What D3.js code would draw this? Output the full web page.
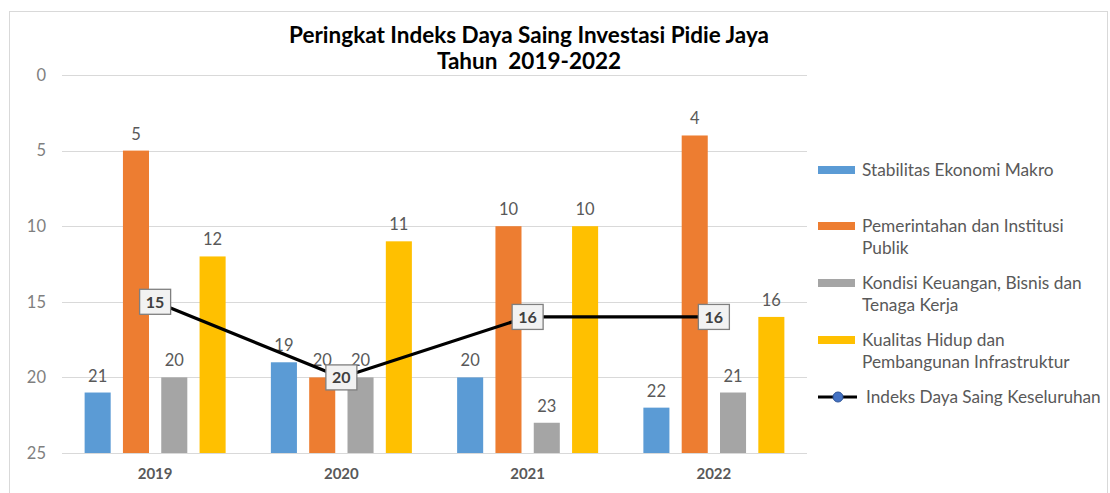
<!DOCTYPE html>
<html>
<head>
<meta charset="utf-8">
<script src="https://cdn.jsdelivr.net/npm/d3@7"></script>
<style>
  html, body { margin: 0; padding: 0; background: #fff; }
  svg { display: block; font-family: Lato, "Open Sans", sans-serif; }
</style>
</head>
<body>
<svg id="chart" width="1110" height="493"></svg>
<script>
const years = ["2019", "2020", "2021", "2022"];
const seriesNames = [
  "Stabilitas Ekonomi Makro",
  "Pemerintahan dan Institusi Publik",
  "Kondisi Keuangan, Bisnis dan Tenaga Kerja",
  "Kualitas Hidup dan Pembangunan Infrastruktur"
];
const stabilitas = [21, 19, 20, 22];
const pemerintahan = [5, 20, 10, 4];
const kondisi = [20, 20, 23, 21];
const kualitas = [12, 11, 10, 16];
const indeksKeseluruhan = [15, 20, 16, 16];
const lineName = "Indeks Daya Saing Keseluruhan";
const yTicks = [0, 5, 10, 15, 20, 25];
const colors = ["#5B9BD5", "#ED7D31", "#A5A5A5", "#FFC000"];
const legendLines = [
  ["Stabilitas Ekonomi Makro"],
  ["Pemerintahan dan Institusi", "Publik"],
  ["Kondisi Keuangan, Bisnis dan", "Tenaga Kerja"],
  ["Kualitas Hidup dan", "Pembangunan Infrastruktur"]
];
const titleLines = ["Peringkat Indeks Daya Saing Investasi Pidie Jaya", "Tahun  2019-2022"];

const barSeries = [stabilitas, pemerintahan, kondisi, kualitas];

const svg = d3.select("#chart");

// outer frame
svg.append("rect").attr("x", 9.5).attr("y", 11.5).attr("width", 1098).attr("height", 500)
  .attr("fill", "#fff").attr("stroke", "#d9d9d9").attr("stroke-width", 1);

const plot = { left: 62, right: 807, top: 75, bottom: 453 };

const x0 = d3.scaleBand().domain(years).range([plot.left, plot.right]).paddingInner(0).paddingOuter(0);
const groupPad = (x0.bandwidth() - 141) / 2;
const x1 = d3.scaleBand().domain(d3.range(4)).range([groupPad, x0.bandwidth() - groupPad]).paddingInner(0.32).paddingOuter(0);
const y = d3.scaleLinear().domain([0, 25]).range([plot.top, plot.bottom]);

// gridlines
svg.append("g").selectAll("line").data(yTicks).join("line")
  .attr("x1", plot.left).attr("x2", plot.right)
  .attr("y1", d => Math.round(y(d)) + 0.5).attr("y2", d => Math.round(y(d)) + 0.5)
  .attr("stroke", "#d9d9d9").attr("stroke-width", 1);

// y axis labels
const yAxis = d3.axisLeft(y).tickValues(yTicks).tickSize(0).tickPadding(0);
const yg = svg.append("g").attr("transform", `translate(${plot.left - 16},0)`).call(yAxis);
yg.select(".domain").remove();
yg.selectAll("text").attr("fill", "#7f7f7f").attr("font-size", "16.5px").attr("font-family", "Lato, sans-serif");

// x axis labels
const xAxis = d3.axisBottom(x0).tickSize(0).tickPadding(0);
const xg = svg.append("g").attr("transform", `translate(0,${plot.bottom + 15})`).call(xAxis);
xg.select(".domain").remove();
xg.selectAll("text").attr("fill", "#595959").attr("font-size", "15px").attr("font-weight", "bold").attr("font-family", "Lato, sans-serif");

// bars
const groups = svg.append("g").selectAll("g").data(years).join("g")
  .attr("transform", d => `translate(${x0(d)},0)`);
groups.each(function(yr, i) {
  const g = d3.select(this);
  const vals = barSeries.map((s, k) => ({ k, v: s[i] }));
  g.selectAll("rect").data(vals).join("rect")
    .attr("x", d => x1(d.k)).attr("width", x1.bandwidth())
    .attr("y", d => y(d.v)).attr("height", d => y(25) - y(d.v))
    .attr("fill", d => colors[d.k]);
  g.selectAll("text").data(vals).join("text")
    .attr("x", d => x1(d.k) + x1.bandwidth() / 2)
    .attr("y", d => y(d.v) - 11)
    .attr("text-anchor", "middle")
    .attr("fill", "#595959").attr("font-size", "16.5px")
    .text(d => d.v);
});

// line
const lineData = years.map((yr, i) => ({ yr, v: indeksKeseluruhan[i] }));
const line = d3.line().x(d => x0(d.yr) + x0.bandwidth() / 2).y(d => y(d.v));
svg.append("path").datum(lineData).attr("d", line)
  .attr("fill", "none").attr("stroke", "#000").attr("stroke-width", 3.2).attr("stroke-linejoin", "round");

// line label boxes
const lbl = svg.append("g").selectAll("g").data(lineData).join("g")
  .attr("transform", d => `translate(${x0(d.yr) + x0.bandwidth() / 2},${y(d.v)})`);
lbl.append("rect").attr("x", -15.5).attr("y", -12.5).attr("width", 31).attr("height", 25)
  .attr("fill", "#f2f2f2").attr("stroke", "#7f7f7f").attr("stroke-width", 1.3);
lbl.append("text").attr("text-anchor", "middle").attr("dy", "0.36em")
  .attr("fill", "#404040").attr("font-size", "16px").attr("font-weight", "bold")
  .text(d => d.v);

// title
svg.append("g").selectAll("text").data(titleLines).join("text")
  .attr("x", 529).attr("y", (d, i) => 43 + i * 26)
  .attr("text-anchor", "middle").attr("font-weight", "bold").attr("font-size", "22.5px")
  .attr("fill", "#000").style("white-space", "pre")
  .text(d => d);

// legend
const legendY = [170, 226, 283, 340];
const leg = svg.append("g");
legendLines.forEach((lines, k) => {
  leg.append("rect").attr("x", 818).attr("y", legendY[k] - 4).attr("width", 37).attr("height", 8)
    .attr("fill", colors[k]);
  lines.forEach((t, j) => {
    leg.append("text").attr("x", 862).attr("y", legendY[k] + j * 22).attr("dy", "0.35em")
      .attr("fill", "#595959").attr("font-size", "17.3px").text(t);
  });
});
leg.append("line").attr("x1", 818).attr("x2", 857).attr("y1", 397).attr("y2", 397)
  .attr("stroke", "#000").attr("stroke-width", 3);
leg.append("circle").attr("cx", 838).attr("cy", 397).attr("r", 5)
  .attr("fill", "#4472C4").attr("stroke", "#2f5597").attr("stroke-width", 1);
leg.append("text").attr("x", 866).attr("y", 397).attr("dy", "0.35em")
  .attr("fill", "#595959").attr("font-size", "17.2px").text(lineName);
</script>
</body>
</html>
